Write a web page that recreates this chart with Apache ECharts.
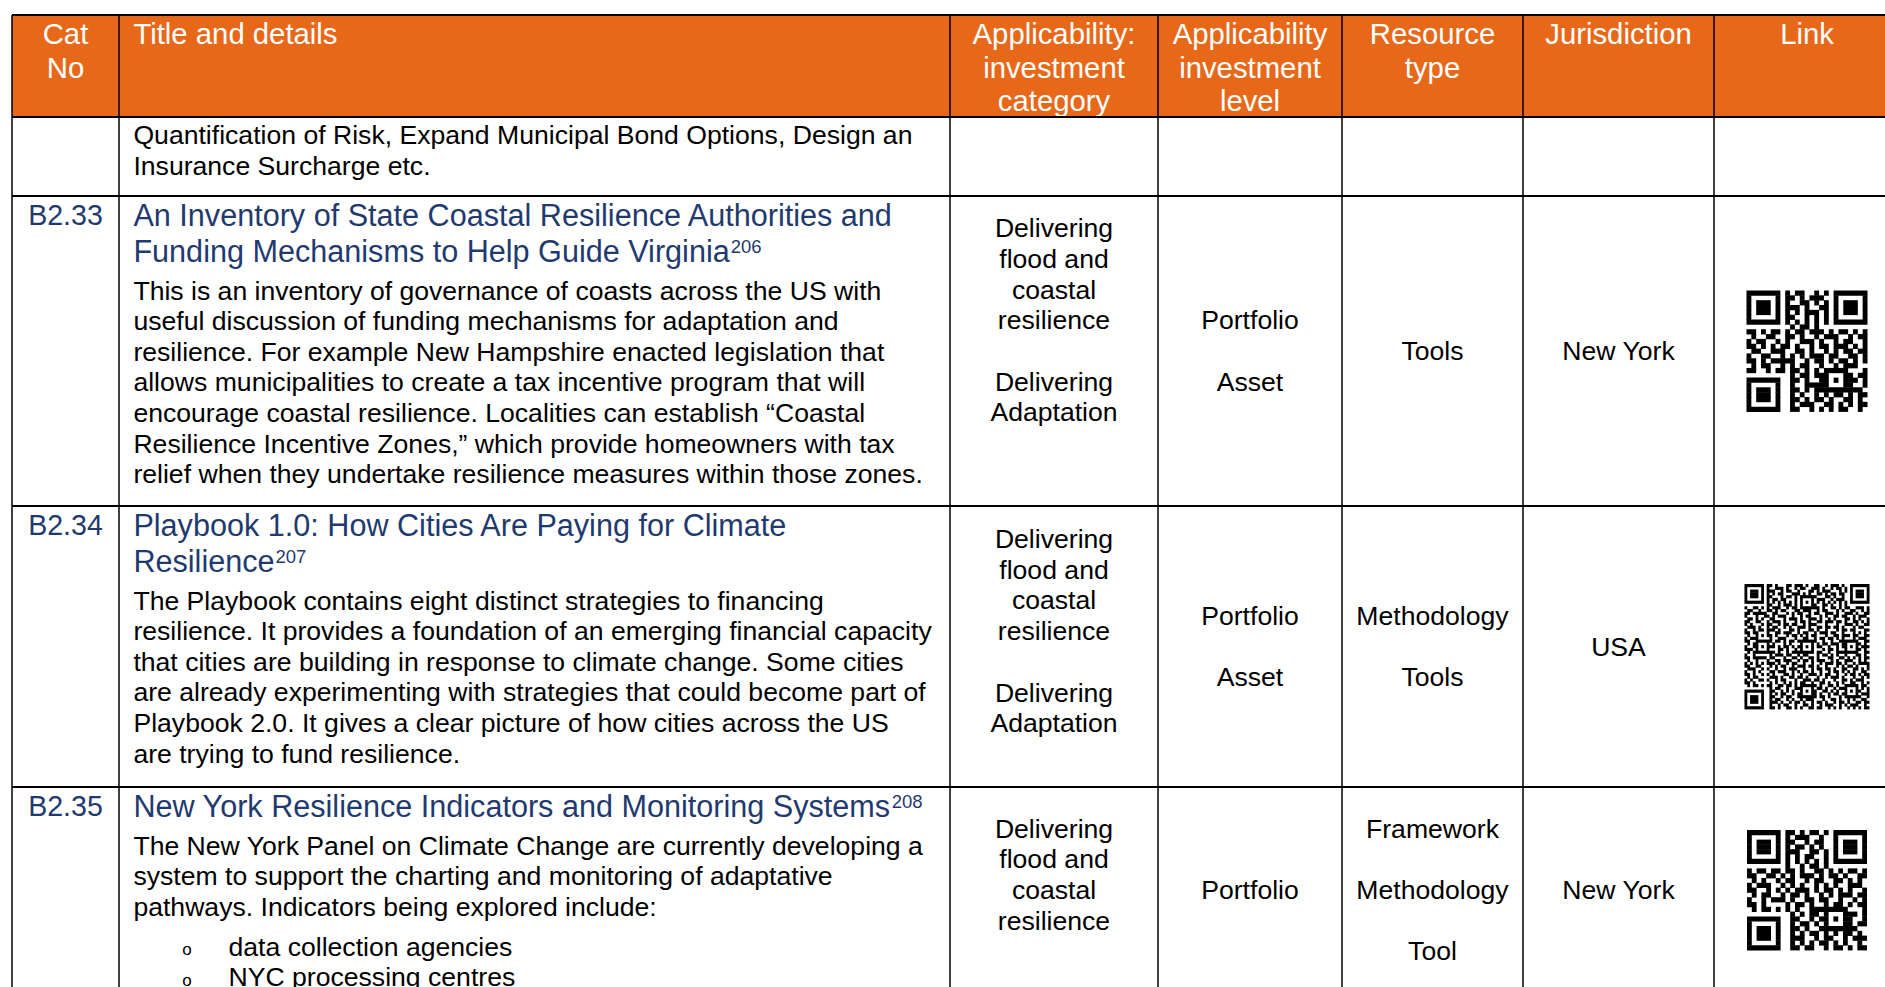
<!DOCTYPE html>
<html><head><meta charset="utf-8">
<script src="https://cdn.jsdelivr.net/npm/echarts@6/dist/echarts.min.js"></script>
<style>html,body{margin:0;padding:0;background:#fff;overflow:hidden}#c{width:1885px;height:987px}</style>
</head><body><div id="c"></div>
<script>
// ================= DATA =================
const headerLabels = [
  ["Cat", "No"],
  ["Title and details"],
  ["Applicability:", "investment", "category"],
  ["Applicability", "investment", "level"],
  ["Resource", "type"],
  ["Jurisdiction"],
  ["Link"]
];
const catNos = ["", "B2.33", "B2.34", "B2.35"];
const titleLines = [
  [],
  ["An Inventory of State Coastal Resilience Authorities and", "Funding Mechanisms to Help Guide Virginia"],
  ["Playbook 1.0: How Cities Are Paying for Climate", "Resilience"],
  ["New York Resilience Indicators and Monitoring Systems"]
];
const footnotes = ["", "206", "207", "208"];
const detailLines = [
  ["Quantification of Risk, Expand Municipal Bond Options, Design an",
   "Insurance Surcharge etc."],
  ["This is an inventory of governance of coasts across the US with",
   "useful discussion of funding mechanisms for adaptation and",
   "resilience. For example New Hampshire enacted legislation that",
   "allows municipalities to create a tax incentive program that will",
   "encourage coastal resilience. Localities can establish \u201cCoastal",
   "Resilience Incentive Zones,\u201d which provide homeowners with tax",
   "relief when they undertake resilience measures within those zones."],
  ["The Playbook contains eight distinct strategies to financing",
   "resilience. It provides a foundation of an emerging financial capacity",
   "that cities are building in response to climate change. Some cities",
   "are already experimenting with strategies that could become part of",
   "Playbook 2.0. It gives a clear picture of how cities across the US",
   "are trying to fund resilience."],
  ["The New York Panel on Climate Change are currently developing a",
   "system to support the charting and monitoring of adaptative",
   "pathways. Indicators being explored include:"]
];
const bulletItems = [[], [], [], ["data collection agencies", "NYC processing centres"]];
const investCategory = [
  [],
  ["Delivering", "flood and", "coastal", "resilience", "", "Delivering", "Adaptation", "", ""],
  ["Delivering", "flood and", "coastal", "resilience", "", "Delivering", "Adaptation", ""],
  ["Delivering", "flood and", "coastal", "resilience", ""]
];
const investLevel = [[], ["Portfolio", "", "Asset"], ["Portfolio", "", "Asset"], ["Portfolio"]];
const resourceType = [[], ["Tools"], ["Methodology", "", "Tools"], ["Framework", "", "Methodology", "", "Tool"]];
const jurisdiction = [[], ["New York"], ["USA"], ["New York"]];

const qrRows1 = [
"........#.##..#.#........",
"........##.#.###.........",
"........#..##.#.#........",
"........###.#..##........",
"........#.#.###.#........",
"........##..#.#.#........",
".........................",
".........#.##.#..........",
"##.#.#..#.##.###.#.##.#.#",
".#..###.##.#..#.###..#.##",
"#.##..#.#..###.#..#.##..#",
"##.#.#.##.#..#.##.###.#.#",
".##..###..##.#..#.#.##.##",
"#..##..#.#.#.###.##..##.#",
"##.#.#.###..#.##.#.##.#.#",
".#.##..#.#.##..#..#.###..",
"##..#.##.##.#.#.........#",
".........#.##.##.....#.##",
".........##.#..#.....##.#",
".........#..####.....#..#",
".........##.#.##.....###.",
".........#.#..#.#.##.#.##",
".........##.#.##.#..##.#.",
".........#.###..##.#.#.##",
".........##..#.#.#.##..#."
];
const qrRows2 = [
"........##.#...##.###.#..##..#.###.#.........",
"........#..###.#..#.##..###.#..#.##.#........",
"........###..#.##..#...##.#.###...#.#........",
"........#.#.##...###.#.#..##.#.##.##.........",
"........##...#.##.#..###.#...##.#..#.........",
"........#.##.##...#.##..#.###..#.###.........",
".............................................",
"........##..#.###.#...##.#..##.#..#.#........",
"#..##.#.#.###..#.##.#...###.#..##.#.##..###.#",
".##..#..##.#.##...##.###..#.##...#.#..##..#.#",
"##.###.#..##...#.#.##..#.##..###.#..###.#..##",
"#...#.###.#.###..#..#.##...#.#..##.##..#.###.",
".##.#.#..##...#.###.#..###.#..#.#...##.#.#..#",
"##..##..#.###.#...#.##.#..##.###.##.#..##.#.#",
"#.#...#.##..#.##.##..#.###...#...#..###.#..##",
".###.#..#.##..#.#..###.#..##.##.##.#...#.##..",
"#..#.##.###.#...##.#...##.#..#...#.##.##...##",
"##.##...#..##.###..#.##..#.###.##..#...#.#.#.",
".#..#.#.##.#...#.##.#.#.##...#..##.###.##..##",
"#.###.#..#..###...#..##..#.##.##.#.#...#.###.",
"##..#...##.##.#.##.#.#.###..#..#..##.##.#..##",
".#.#.##.#.#...#.#...##.#..#.##.###.#..#.##.#.",
"#..##.#..##.#.##.#.##...#.##..#..#.##.#...###",
"###..##.#...##.#..#.#.###...#.##.#..#..###.#.",
".#.##.#.###.#..#.###..#.#.##..#..###.##.#..##",
"#..#..#..#.###.##..#.##...#.##.#.#..#...##.#.",
"##.###.#.##...#..##.#..##.#...##..##.#.#.#.##",
".#..#...#..##.###..#.##.#.###..#.#..###..#.#.",
"#.#.#.#.###.#..#.##..#..#..#.###.##.#..#.####",
"##..###..#.#.##..#.###.##.#..#...#.#.##.#...#",
".###..#.#..#..#.###..#..#.##.##.#..##..##.#.#",
"#..#.##..##.###..#.#.##.#..#..#.##.#.#.#..##.",
"##.#..#.#.#...##.#..#..###.#.##..#..#.##.#.##",
".#.##.#..###.#..##.##.#...#..#.###.#...#..#.#",
"#.#..##.#..#.##...#..###.##.#...#..##.#.###..",
"##.#..#..#.#..#.#.#.##..#..##.#..#.#..##..#.#",
".#.##.#.##..##.##.#...#.##.#..##.#..#.#.#.##.",
".........#.##..#..##.#.#..##.#..#.##.#..#.#.#",
".........##..#.#.#...###.#..##.#.#..##.###..#",
".........#.#.##..#.#.#..##.#..#.##.#...#..###",
".........##..#.##..##..#.#.##.#...#.#.##.#..#",
".........#.##..#.#..#.###...#..##.#..#.#..##.",
".........###.#..#.##.#..#.##.#..#.##.#..##.##",
".........#..#.##..#..##.#..#.###..#.#.###..#.",
".........##.#..##.#.#..##.##..#.#.#..#.#.#.##"
];
const qrRows3 = [
"........##.#.##.#........",
"........#.###..#.........",
"........##..#.##.........",
"........#.##.#.#.........",
"........###..##.#........",
"........#.#.##..#........",
".........................",
"........#..#.##.#........",
"#.##.#..##.#..##.#.#.##.#",
"##..##.#.#.###.#.##.#..##",
".#.#..#.##..#.##..##.#.#.",
"#.###.##.#.#..#.#.#..###.",
"##..#.#.#.###.#.##.#.#..#",
".#.##..#.##.#..#.#.###.##",
"#..#.###.#..##.##..#..#.#",
"##.#..#.#.##.#..#.##.#.##",
".#.##.#.#.#..###........#",
".........#.#.##.#....##.#",
".........##..#.##....#..#",
".........#.##.#.#....#.##",
".........##.#..##....##..",
".........#.#.##.#.#.##.#.",
".........###..#.##..#.###",
".........#.#.#.##.#.#..#.",
".........##.##..#.##.#.##"
];
const qrCodes = [qrRows1, qrRows2, qrRows3];

// ================= LAYOUT / STYLE =================
const FONT = '"Liberation Sans", Arial, Helvetica, sans-serif';
const COLOR = { orange: '#E8681A', blue: '#1F3A6E', text: '#000000', rule: '#000000', white: '#FFFFFF' };
const COLS = [12, 119, 950, 1158, 1342, 1523, 1714, 1900];
const ROWS = [15, 117, 196, 506, 787, 993];
const SZ = { header: 29.3, cat: 28.6, title: 30.6, body: 26.6, sup: 18.5, bullet: 17 };
const LH = { header: 33.5, title: 36, body: 30.65, center: 30.7 };
const PAD = { left: 14.4, firstLine: 18.5, bodyOnly: 18, titleToBody: 40, bodyToBullet: 40,
              bulletX: 68, bulletTextX: 109.5, bulletDy: 3, supDy: -4.3, supGap: 1 };
const QR_ROW = [2, 3, 4];
const QR_SIZE = [121, 125, 120];
const RULE_W = { h: 2.2, v: 1.5 };

const mctx = document.createElement('canvas').getContext('2d');
function measure(t, size) { mctx.font = size + 'px ' + FONT; return mctx.measureText(t).width; }

function qrMatrix(rows) {
  const N = rows.length;
  const m = rows.map(s => { const a = []; for (let c = 0; c < N; c++) a.push(s[c] === '#' ? 1 : 0); return a; });
  const set = (r, c, v) => { if (r >= 0 && r < N && c >= 0 && c < N) m[r][c] = v; };
  for (let i = 8; i < N - 8; i++) { set(6, i, i % 2 === 0 ? 1 : 0); set(i, 6, i % 2 === 0 ? 1 : 0); }
  [[0, 0], [0, N - 7], [N - 7, 0]].forEach(([r0, c0]) => {
    for (let r = -1; r <= 7; r++) for (let c = -1; c <= 7; c++) {
      let v = 0;
      if (r >= 0 && r <= 6 && c >= 0 && c <= 6) {
        const ring = r === 0 || r === 6 || c === 0 || c === 6;
        const core = r >= 2 && r <= 4 && c >= 2 && c <= 4;
        v = (ring || core) ? 1 : 0;
      }
      set(r0 + r, c0 + c, v);
    }
  });
  const ver = (N - 17) / 4;
  let pos = [];
  if (ver >= 2 && ver <= 6) pos = [6, N - 7]; else if (ver >= 7) pos = [6, (6 + N - 7) / 2, N - 7];
  pos.forEach(ar => pos.forEach(ac => {
    if ((ar === 6 && ac === 6) || (ar === 6 && ac === N - 7) || (ar === N - 7 && ac === 6)) return;
    for (let r = -2; r <= 2; r++) for (let c = -2; c <= 2; c++) {
      const ring = Math.max(Math.abs(r), Math.abs(c)) === 2;
      set(ar + r, ac + c, (ring || (r === 0 && c === 0)) ? 1 : 0);
    }
  }));
  return m;
}
const qrMats = qrCodes.map(qrMatrix);

function mkText(api, t, x, y, size, color, align) {
  const pt = api.coord([x, y]);
  return { type: 'text', x: pt[0], y: pt[1], silent: true,
    style: { text: t, fill: color, fontSize: size, fontFamily: FONT, align: align, verticalAlign: 'middle' } };
}

function renderRow(params, api) {
  const r = params.dataIndex;
  const top = ROWS[r], bot = ROWS[r + 1];
  const children = [];
  if (r === 0) {
    const a = api.coord([COLS[0], top]), b = api.coord([COLS[COLS.length - 1], bot]);
    children.push({ type: 'rect', shape: { x: a[0], y: a[1], width: b[0] - a[0], height: b[1] - a[1] }, style: { fill: COLOR.orange } });
    headerLabels.forEach((lines, ci) => {
      const left = ci === 1;
      const x = left ? COLS[1] + PAD.left : (COLS[ci] + COLS[ci + 1]) / 2;
      lines.forEach((t, li) => {
        children.push(mkText(api, t, x, top + PAD.firstLine + li * LH.header, SZ.header, COLOR.white, left ? 'left' : 'center'));
      });
    });
    return { type: 'group', children };
  }
  const k = r - 1;
  const x0 = COLS[1] + PAD.left;
  let y = top + PAD.firstLine;
  if (catNos[k]) children.push(mkText(api, catNos[k], (COLS[0] + COLS[1]) / 2, y, SZ.cat, COLOR.blue, 'center'));
  const tl = titleLines[k];
  if (tl.length) {
    let last = y;
    tl.forEach((t, i) => { last = y + i * LH.title; children.push(mkText(api, t, x0, last, SZ.title, COLOR.blue, 'left')); });
    if (footnotes[k]) {
      const w = measure(tl[tl.length - 1], SZ.title);
      children.push(mkText(api, footnotes[k], x0 + w + PAD.supGap, last + PAD.supDy, SZ.sup, COLOR.blue, 'left'));
    }
    y = last + PAD.titleToBody;
  } else {
    y = top + PAD.bodyOnly;
  }
  const dl = detailLines[k];
  dl.forEach((t, i) => children.push(mkText(api, t, x0, y + i * LH.body, SZ.body, COLOR.text, 'left')));
  const lastBody = y + (dl.length - 1) * LH.body;
  bulletItems[k].forEach((t, i) => {
    const yy = lastBody + PAD.bodyToBullet + i * LH.body;
    children.push(mkText(api, 'o', COLS[1] + PAD.bulletX, yy + PAD.bulletDy, SZ.bullet, COLOR.text, 'center'));
    children.push(mkText(api, t, COLS[1] + PAD.bulletTextX, yy, SZ.body, COLOR.text, 'left'));
  });
  [investCategory, investLevel, resourceType, jurisdiction].forEach((arr, j) => {
    const ci = j + 2;
    const lines = arr[k];
    const cx = (COLS[ci] + COLS[ci + 1]) / 2, cy = (top + bot) / 2;
    lines.forEach((t, i) => {
      if (t) children.push(mkText(api, t, cx, cy + (i - (lines.length - 1) / 2) * LH.center, SZ.body, COLOR.text, 'center'));
    });
  });
  return { type: 'group', children };
}

const ruleData = [];
ROWS.forEach((v, i) => ruleData.push([0, i]));
COLS.forEach((v, i) => ruleData.push([1, i]));
function renderRule(params, api) {
  const kind = api.value(0), i = api.value(1);
  let a, b, w;
  if (kind === 0) { a = api.coord([COLS[0], ROWS[i]]); b = api.coord([COLS[COLS.length - 1], ROWS[i]]); w = RULE_W.h; }
  else { a = api.coord([COLS[i], ROWS[0]]); b = api.coord([COLS[i], ROWS[ROWS.length - 1]]); w = RULE_W.v; }
  return { type: 'line', shape: { x1: a[0], y1: a[1], x2: b[0], y2: b[1] }, style: { stroke: COLOR.rule, lineWidth: w } };
}

function renderQR(params, api) {
  const i = params.dataIndex;
  const m = qrMats[i], N = m.length, size = QR_SIZE[i], r = QR_ROW[i];
  const cx = (COLS[6] + COLS[7]) / 2, cy = (ROWS[r] + ROWS[r + 1]) / 2;
  const tl = api.coord([cx - size / 2, cy - size / 2]), br = api.coord([cx + size / 2, cy + size / 2]);
  const mw = (br[0] - tl[0]) / N, mh = (br[1] - tl[1]) / N;
  const children = [];
  for (let rr = 0; rr < N; rr++) {
    let c = 0;
    while (c < N) {
      if (m[rr][c]) {
        let e = c; while (e < N && m[rr][e]) e++;
        children.push({ type: 'rect', shape: { x: tl[0] + c * mw, y: tl[1] + rr * mh, width: (e - c) * mw, height: mh + 0.4 }, style: { fill: '#000' } });
        c = e;
      } else c++;
    }
  }
  return { type: 'group', children };
}

const chart = echarts.init(document.getElementById('c'), null, { renderer: 'svg', width: 1885, height: 987 });
chart.setOption({
  animation: false,
  backgroundColor: '#ffffff',
  grid: { left: 0, right: 0, top: 0, bottom: 0 },
  xAxis: { type: 'value', min: 0, max: 1885, show: false },
  yAxis: { type: 'value', min: 0, max: 987, inverse: true, show: false },
  series: [
    { type: 'custom', name: 'cells', clip: false, z: 1, renderItem: renderRow,
      data: ROWS.slice(0, ROWS.length - 1).map((v, i) => [i, 0]) },
    { type: 'custom', name: 'qr', clip: false, z: 2, renderItem: renderQR,
      data: qrCodes.map((q, i) => [i, 0]) },
    { type: 'custom', name: 'rules', clip: false, z: 3, renderItem: renderRule, data: ruleData }
  ]
});
</script>
</body></html>
